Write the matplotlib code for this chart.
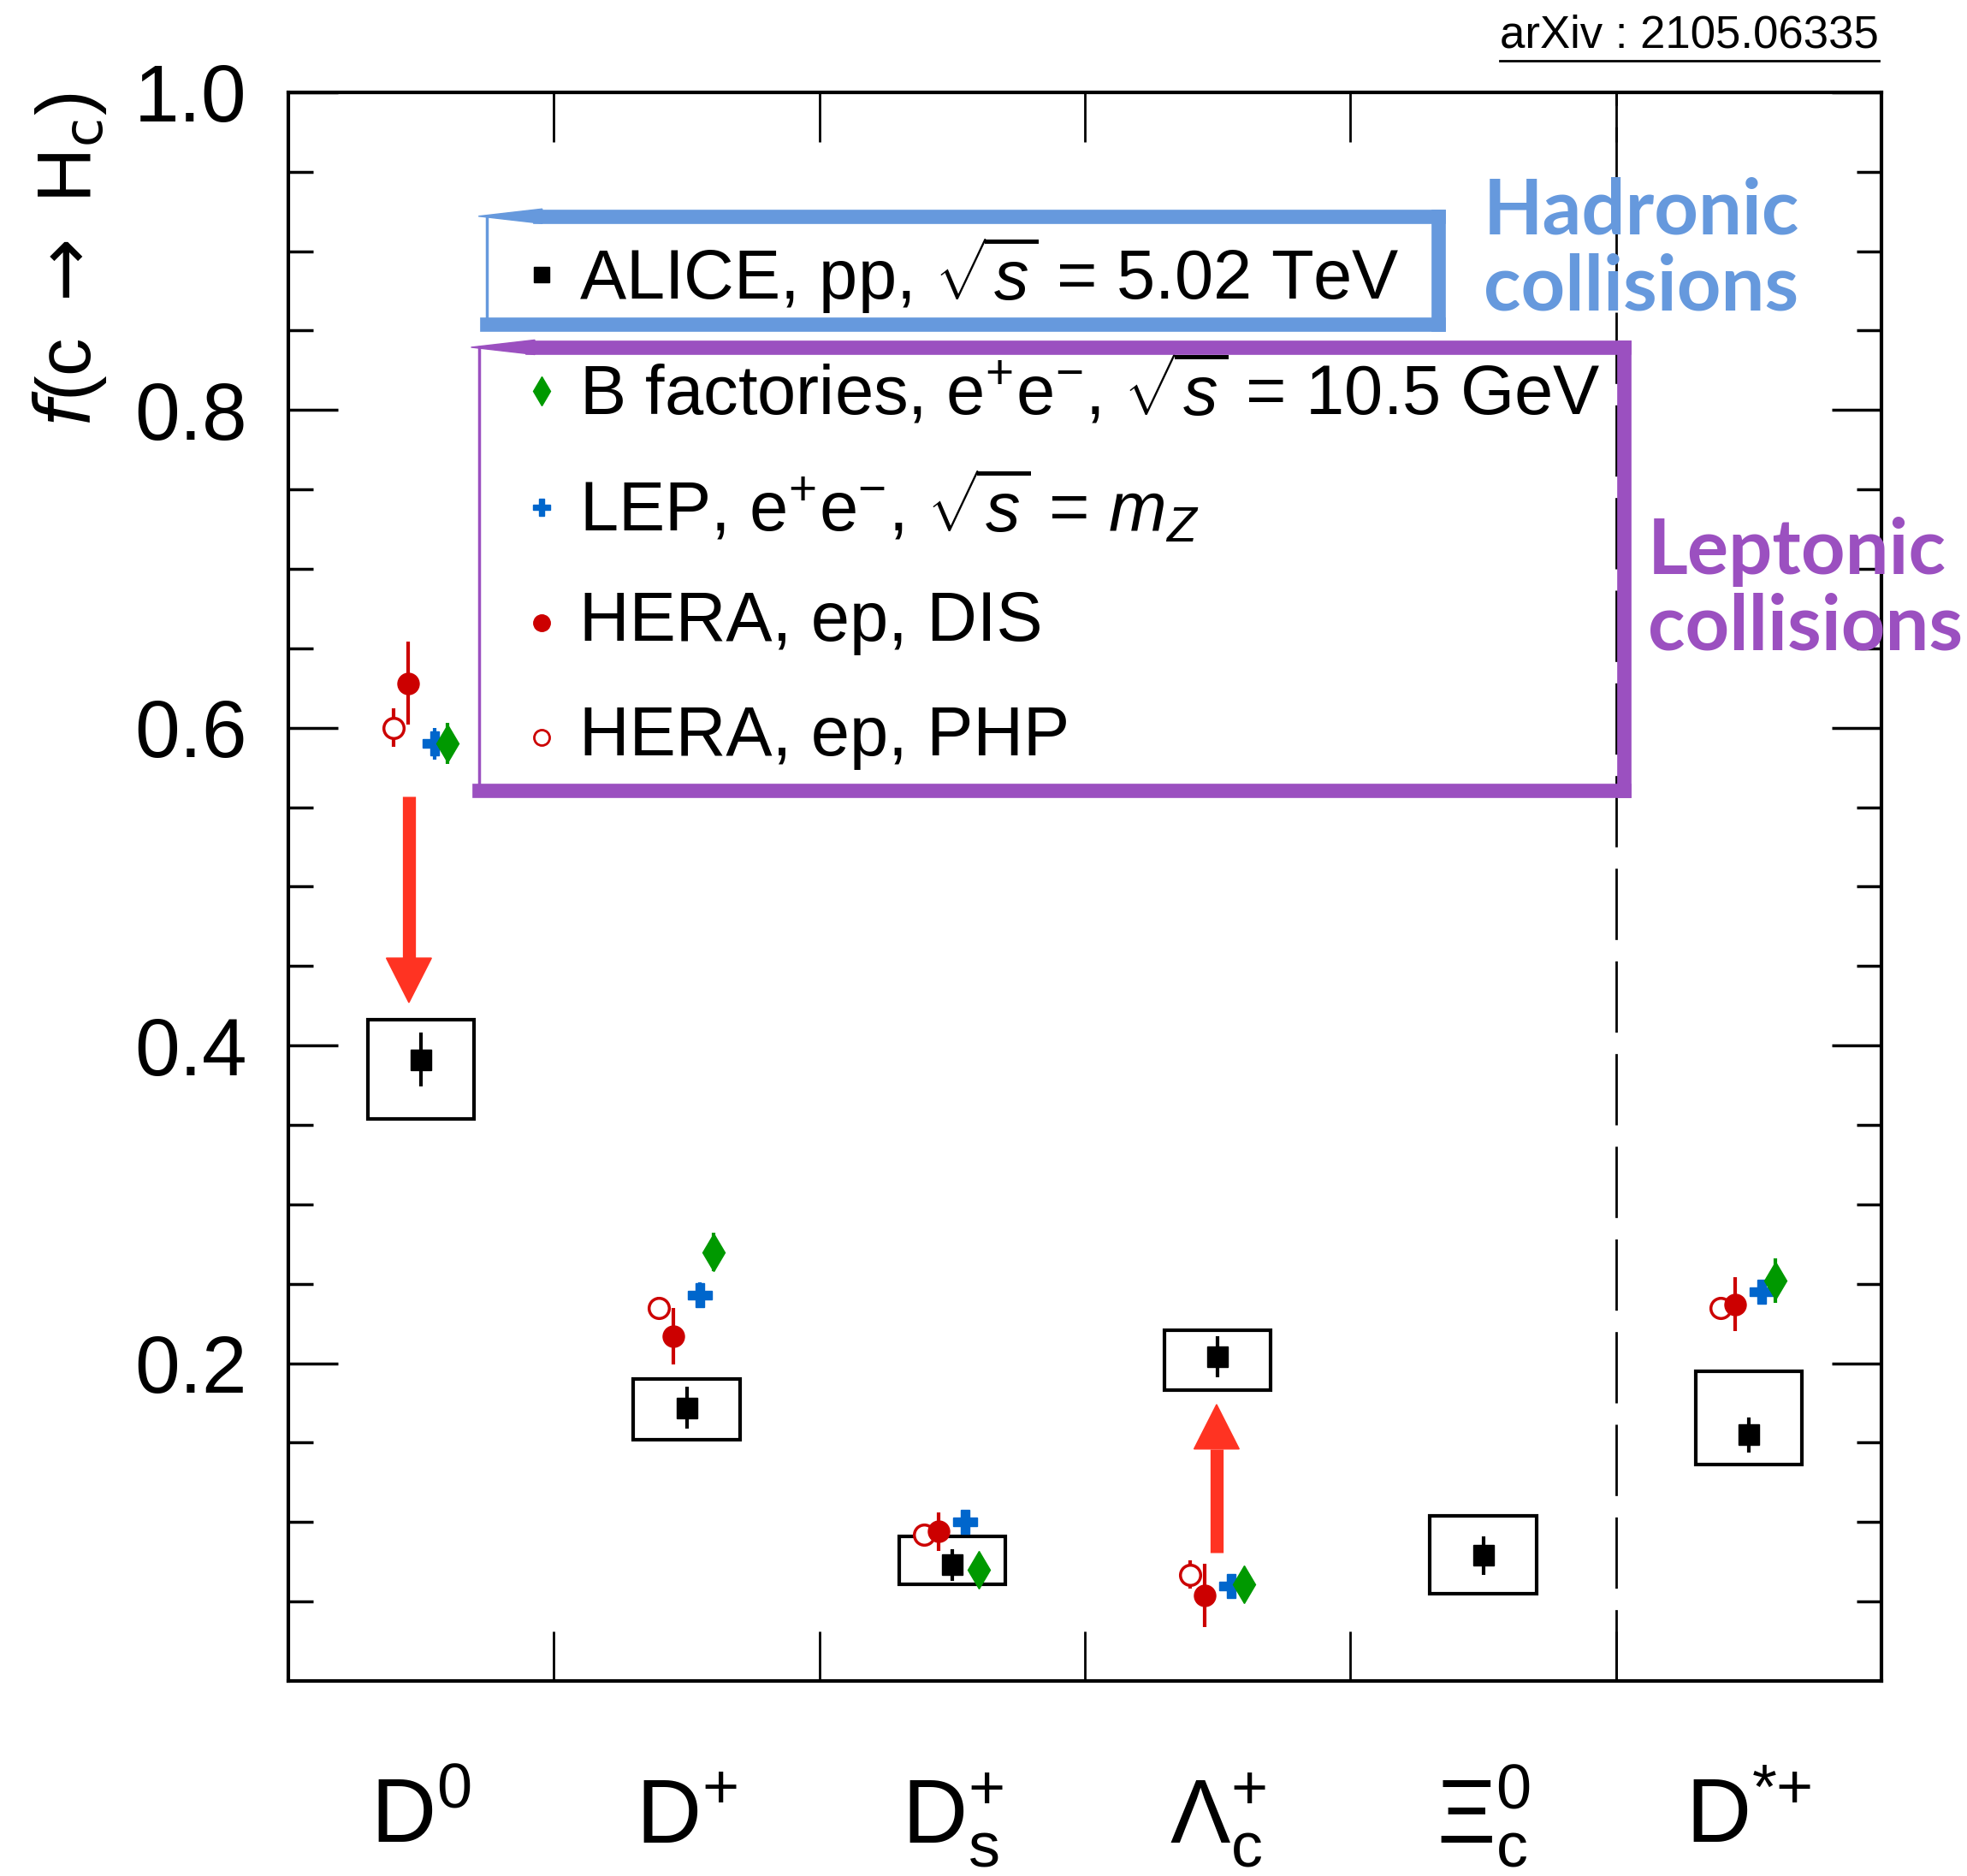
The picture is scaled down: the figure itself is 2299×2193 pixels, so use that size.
import matplotlib
matplotlib.use("Agg")
import matplotlib.pyplot as plt
from matplotlib.patches import Rectangle, Polygon
from matplotlib.lines import Line2D
import numpy as np

plt.rcParams['font.family'] = ['Liberation Sans', 'DejaVu Sans']
plt.rcParams['mathtext.fontset'] = 'custom'
plt.rcParams['mathtext.rm'] = 'Liberation Sans'
plt.rcParams['mathtext.it'] = 'Liberation Sans:italic'
plt.rcParams['mathtext.bf'] = 'Liberation Sans:bold'

# charm hadron species
hadrons = [r'D$^{0}$', r'D$^{+}$', r'D$_\mathrm{s}^{+}$', r'$\Lambda_\mathrm{c}^{+}$',
           r'$\Xi_\mathrm{c}^{0}$', r'D$^{*{+}}$']

# ALICE pp 5.02 TeV
alice_val = [0.391, 0.172, 0.073, 0.204, 0.079, 0.155]
alice_stat = [0.017, 0.013, 0.010, 0.013, 0.012, 0.011]
alice_syst_lo = [0.354, 0.152, 0.061, 0.183, 0.055, 0.136]
alice_syst_hi = [0.416, 0.190, 0.091, 0.221, 0.104, 0.195]

# leptonic collisions: D0, D+, Ds+, Lc+, D*+ (no Xi_c0)
lept_idx = [0, 1, 2, 3, 5]
bfac_val = [0.590, 0.270, 0.070, 0.061, 0.252]
bfac_err = [0.013, 0.012, 0.005, 0.005, 0.014]
lep_val = [0.590, 0.243, 0.100, 0.060, 0.245]
lep_err = [0.010, 0.008, 0.006, 0.006, 0.007]
dis_val = [0.628, 0.217, 0.094, 0.054, 0.237]
dis_err = [0.026, 0.018, 0.012, 0.020, 0.017]
php_val = [0.600, 0.235, 0.092, 0.067, 0.235]
php_err = [0.012, 0.007, 0.006, 0.009, 0.007]

legend_labels = [r'ALICE, pp, $\sqrt{s}$ = 5.02 TeV',
                 r'B factories, e$^{+}$e$^{-}$, $\sqrt{s}$ = 10.5 GeV',
                 r'LEP, e$^{+}$e$^{-}$, $\sqrt{s}$ = $m_Z$',
                 'HERA, ep, DIS',
                 'HERA, ep, PHP']

RED = '#cc0000'
BLUE = '#0066cc'
GREEN = '#009900'
ARROW = '#ff3322'
HAD_C = '#6699dd'
LEP_C = '#9b50c0'

fig = plt.figure(figsize=(22.99, 21.93), dpi=100)
ax = fig.add_axes([0.1466, 0.104, 0.8099, 0.8468])
ax.set_xlim(0, 6)
ax.set_ylim(0, 1)

centers = np.arange(len(hadrons)) + 0.5
lc = centers[lept_idx]

ebkw = dict(elinewidth=3, capsize=0, linestyle='none')
ax.errorbar(lc - 0.105, php_val, yerr=php_err, fmt='o', color=RED, mfc='white',
            mec=RED, mew=2.5, ms=17, zorder=3, **ebkw)
ax.errorbar(lc - 0.05, dis_val, yerr=dis_err, fmt='o', color=RED, ms=18, zorder=4, **ebkw)
ax.errorbar(lc + 0.05, lep_val, yerr=lep_err, fmt='P', color=BLUE, ms=20, zorder=4, **ebkw)
ax.errorbar(lc + 0.1, bfac_val, yerr=bfac_err, fmt='d', color=GREEN, ms=22, zorder=4, **ebkw)

for c, lo, hi in zip(centers, alice_syst_lo, alice_syst_hi):
    ax.add_patch(Rectangle((c - 0.2, lo), 0.4, hi - lo, fill=False, ec='black', lw=3, zorder=2))
ax.errorbar(centers, alice_val, yerr=alice_stat, fmt='s', color='black', ms=17, zorder=5, **ebkw)

# red arrows
for x, y0, y1 in [(0.454, 0.557, 0.427), (3.496, 0.081, 0.174)]:
    sgn = np.sign(y1 - y0)
    hl = 0.028
    ax.plot([x, x], [y0, y1 - sgn * hl], color=ARROW, lw=11, solid_capstyle='butt', zorder=3)
    ax.add_patch(Polygon([(x - 0.085, y1 - sgn * hl), (x + 0.085, y1 - sgn * hl), (x, y1)],
                         closed=True, color=ARROW, zorder=3))

# dashed separator
ax.axvline(5, color='black', lw=2, linestyle=(0, (30, 9)), zorder=1)

# ticks
ax.set_xticks([1, 2, 3, 4, 5])
ax.set_xticklabels([])
ax.tick_params(axis='x', which='major', direction='in', length=42, width=2,
               top=True, bottom=True)
ax.set_yticks([0.2, 0.4, 0.6, 0.8, 1.0])
ax.set_yticklabels(['0.2', '0.4', '0.6', '0.8', '1.0'])
ax.set_yticks(np.arange(0.05, 1.0, 0.05), minor=True)
ax.tick_params(axis='y', which='major', direction='in', length=42, width=2.5,
               left=True, right=True, labelsize=68, pad=35)
ax.tick_params(axis='y', which='minor', direction='in', length=21, width=2.5,
               left=True, right=True)
for s in ax.spines.values():
    s.set_linewidth(3)

for c, lab in zip(centers, hadrons):
    ax.text(c, -0.102, lab, transform=ax.get_xaxis_transform(), ha='center',
            va='baseline', fontsize=76)

ax.text(-0.1375, 1.0, r'$f$(c $\rightarrow$ H$_\mathrm{c}$)', transform=ax.transAxes,
        rotation=90, ha='center', va='top', fontsize=64, math_fontfamily='dejavusans')

# legend entries (drawn by hand)
leg_y = [0.885, 0.812, 0.739, 0.666, 0.594]
leg_style = [dict(marker='s', color='black', ms=13),
             dict(marker='d', color=GREEN, ms=17),
             dict(marker='P', color=BLUE, ms=15),
             dict(marker='o', color=RED, ms=14),
             dict(marker='o', color=RED, mfc='white', mew=2, ms=13)]
for y, lab, st in zip(leg_y, legend_labels, leg_style):
    ax.plot([0.954], [y], linestyle='none', zorder=6, **st)
    ax.text(1.096, y, lab, ha='left', va='center', fontsize=58.5, zorder=6)


def brush_box(x0, x1, y0, y1, color, lw):
    kw = dict(color=color, lw=lw, solid_capstyle='projecting', clip_on=False, zorder=6)
    ax.plot([x0 + 0.2, x1], [y1, y1], **kw)
    ax.plot([x1, x1], [y1, y0], **kw)
    ax.plot([x1, x0], [y0, y0], **kw)
    ax.plot([x0, x0], [y0, y1], color=color, lw=2.5, clip_on=False, zorder=6)
    ax.add_patch(Polygon([(x0 - 0.03, y1), (x0 + 0.21, y1 + 0.0046), (x0 + 0.21, y1 - 0.0046)],
                         closed=True, color=color, clip_on=False, zorder=6))


brush_box(0.746, 4.332, 0.854, 0.922, HAD_C, 12)
brush_box(0.718, 5.031, 0.5605, 0.8395, LEP_C, 12)

ax.text(4.50, 0.901, 'Hadronic\ncollisions', color=HAD_C, fontsize=65,
        fontweight='bold', family='Lato', ha='left', va='center', linespacing=1.1)
ax.text(5.12, 0.687, 'Leptonic\ncollisions', color=LEP_C, fontsize=65,
        fontweight='bold', family='Lato', ha='left', va='center', linespacing=1.1,
        clip_on=False)

arx = fig.text(0.955, 0.981, 'arXiv : 2105.06335', ha='right', va='center', fontsize=38)
fig.canvas.draw()
bb = arx.get_window_extent().transformed(fig.transFigure.inverted())
fig.add_artist(Line2D([bb.x0, bb.x1], [bb.y0 - 0.002, bb.y0 - 0.002],
                      color='black', lw=2, transform=fig.transFigure))

fig.savefig('out.png', dpi=100)
